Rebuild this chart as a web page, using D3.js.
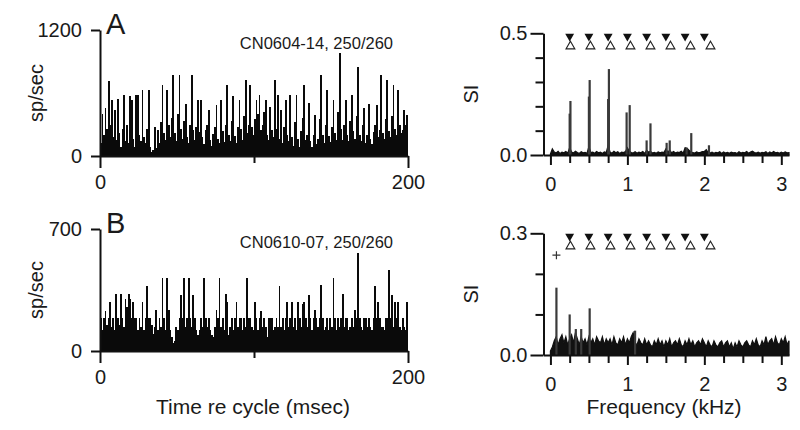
<!DOCTYPE html>
<html><head><meta charset="utf-8">
<script src="https://cdn.jsdelivr.net/npm/d3@7"></script>
<style>
body{margin:0;background:#fff}
svg{display:block}
text{font-family:"Liberation Sans",Arial,Helvetica,sans-serif;fill:#1a1a1a}
</style>
</head><body>
<svg id="chart" width="800" height="430"></svg>
<script>
// ---------- DATA ----------
// Period histograms (1-ms bins, 0..200 ms), spikes/sec
const histA = [
120,400,200,454,260,717,300,533,180,438, 150,540,220,90,260,581,140,300,120,574,
533,160,90,581,581,200,140,628,180,120, 260,628,90,40,60,273,80,250,120,320,
676,220,150,628,300,180,360,771,220,140, 400,771,260,160,330,495,180,120,300,771,
250,150,280,533,230,533,180,110,250,300, 438,150,100,210,280,486,160,120,533,240,
130,300,676,200,140,330,571,190,120,280, 533,260,150,380,724,220,300,676,280,200,
350,533,400,581,250,300,420,533,200,150, 470,250,180,724,260,581,160,438,120,280,
533,200,140,581,180,100,320,581,160,90, 240,360,676,150,200,502,140,90,200,390,
110,160,350,771,200,120,300,628,190,130, 280,533,220,150,420,978,260,150,300,533,
200,140,330,581,240,160,380,850,200,140, 300,454,120,200,495,160,110,230,300,486,
180,250,771,220,160,350,724,240,180,380, 676,260,200,628,300,220,250,438,300,390
];
const histB = [
188,120,188,232,150,188,283,140,188,120, 327,188,150,327,188,140,300,250,327,300,
188,283,188,188,120,188,140,283,120,188, 373,188,188,150,100,140,235,120,188,140,
417,188,120,417,235,120,80,44,60,140, 120,188,321,188,417,140,188,417,188,140,
321,188,120,92,120,188,140,417,188,140, 188,120,92,80,140,235,188,417,140,188,
120,327,280,92,140,188,120,188,280,140, 188,188,120,188,140,417,188,188,140,120,
280,188,120,188,232,140,188,140,80,188, 188,188,120,140,188,140,373,140,188,120,
188,280,140,188,280,140,188,120,280,188, 140,270,283,188,140,321,188,120,188,235,
188,140,188,379,188,120,140,188,120,188, 140,417,188,120,188,140,188,327,140,188,
188,120,140,188,140,235,188,561,188,140, 120,188,188,140,188,140,120,188,373,188,
283,188,140,140,120,188,188,465,188,321, 140,280,188,283,140,120,188,140,120,283
];
const histMaxA = 1200, histMaxB = 700;
const timeTicks = [0, 100, 200];

// Spectra: noise floor sampled every 0.025 kHz from 0 to 3.1 kHz
const noiseStep = 0.025;
const noiseA = [
0.004,0.025,0.012,0.008,0.015,0.006,0.012,0.009,0.014,0.007,
0.030,0.012,0.008,0.015,0.010,0.006,0.013,0.009,0.011,0.007,
0.035,0.010,0.012,0.007,0.014,0.009,0.012,0.006,0.013,0.010,
0.040,0.012,0.007,0.015,0.009,0.013,0.006,0.012,0.010,0.014,
0.030,0.015,0.010,0.008,0.013,0.007,0.012,0.009,0.014,0.006,
0.020,0.012,0.015,0.008,0.011,0.007,0.013,0.009,0.012,0.010,
0.025,0.012,0.020,0.009,0.014,0.008,0.012,0.010,0.015,0.007,
0.030,0.028,0.020,0.012,0.010,0.008,0.013,0.009,0.011,0.014,
0.015,0.022,0.010,0.008,0.012,0.007,0.011,0.009,0.013,0.006,
0.012,0.008,0.011,0.007,0.012,0.009,0.010,0.006,0.013,0.008,
0.011,0.009,0.014,0.007,0.012,0.016,0.010,0.008,0.012,0.007,
0.011,0.009,0.013,0.006,0.012,0.008,0.014,0.009,0.011,0.007,
0.012,0.008,0.013,0.009,0.010
];
const noiseB = [
0.010,0.020,0.035,0.045,0.025,0.040,0.050,0.030,0.045,0.025,
0.040,0.050,0.030,0.055,0.040,0.025,0.045,0.030,0.040,0.025,
0.045,0.030,0.040,0.025,0.045,0.035,0.030,0.045,0.025,0.040,
0.030,0.040,0.025,0.045,0.030,0.025,0.040,0.030,0.045,0.025,
0.040,0.030,0.045,0.055,0.030,0.025,0.040,0.030,0.025,0.040,
0.025,0.035,0.025,0.020,0.035,0.025,0.040,0.025,0.035,0.020,
0.035,0.025,0.040,0.020,0.030,0.035,0.025,0.040,0.025,0.020,
0.035,0.025,0.040,0.025,0.035,0.020,0.030,0.035,0.025,0.040,
0.030,0.020,0.035,0.025,0.020,0.035,0.025,0.020,0.030,0.035,
0.020,0.030,0.035,0.020,0.030,0.015,0.030,0.020,0.035,0.025,
0.020,0.030,0.035,0.025,0.020,0.035,0.025,0.040,0.025,0.020,
0.035,0.025,0.045,0.025,0.035,0.040,0.025,0.045,0.030,0.025,
0.040,0.030,0.045,0.025,0.035
];
// Spectral peaks (kHz, SI)
const peakFreqA = [0.25,0.26,0.50,0.51,0.75,0.76,0.99,1.03,1.25,1.30,1.51,1.55,1.77,1.83,2.06];
const peakSIA   = [0.17,0.222,0.24,0.308,0.23,0.353,0.175,0.205,0.06,0.13,0.05,0.06,0.03,0.09,0.04];
const peakFreqB = [0.078,0.25,0.33,0.40,0.51,1.10];
const peakSIB   = [0.166,0.10,0.064,0.064,0.115,0.06];
const siMaxA = 0.5, siMaxB = 0.3;
const freqTicks = [0,0.25,0.5,0.75,1,1.25,1.5,1.75,2,2.25,2.5,2.75,3];
const freqLabels = [0,1,2,3];
// Harmonic markers: 250 Hz (filled) and 260 Hz (open) multiples
const markers250 = [0.25,0.50,0.75,1.00,1.25,1.50,1.75,2.00];
const markers260 = [0.26,0.52,0.78,1.04,1.30,1.56,1.82,2.08];
const crossB = {f:0.078, si:0.246};

// ---------- DRAW ----------
const svg = d3.select("#chart");
const FS = "20px";

function styleAxis(g){
  g.selectAll("path.domain").attr("stroke","#111").attr("stroke-width",2);
  g.selectAll(".tick line").attr("stroke","#111").attr("stroke-width",2);
  g.selectAll(".tick text").style("font-size",FS).attr("fill","#1a1a1a");
}

function drawHist(o){
  const g = svg.append("g");
  const x = d3.scaleLinear().domain([0,200]).range([100,408]);
  const y = d3.scaleLinear().domain([0,o.max]).range([o.y0,o.y1]);
  g.append("g").attr("shape-rendering","crispEdges").selectAll("rect").data(o.data).join("rect")
    .attr("x",(d,i)=>x(i)).attr("width",x(1)-x(0)+0.3)
    .attr("y",d=>y(d)).attr("height",d=>y(0)-y(d))
    .attr("fill","#0a0a0a");
  const ya = g.append("g").attr("transform","translate(100,0)")
    .call(d3.axisLeft(y).tickValues([0,o.max]).tickSize(9).tickPadding(9).tickSizeOuter(0).tickFormat(d3.format("d")));
  styleAxis(ya);
  const xa = g.append("g").attr("transform",`translate(0,${o.y0})`)
    .call(d3.axisBottom(x).tickValues([timeTicks[0],timeTicks[2]]).tickSize(12).tickPadding(7).tickSizeOuter(0));
  styleAxis(xa);
  const xm = g.append("g").attr("transform",`translate(0,${o.y0})`)
    .call(d3.axisBottom(x).tickValues([timeTicks[1]]).tickSize(7).tickFormat("").tickSizeOuter(0));
  styleAxis(xm);
  xm.select("path.domain").remove();
  g.append("text").attr("x",106).attr("y",o.y1+4).style("font-size","29px").text(o.letter);
  g.append("text").attr("x",393).attr("y",o.y1+19).attr("text-anchor","end").style("font-size","16.5px").text(o.note);
  g.append("text").attr("transform",`translate(43,${(o.y0+o.y1)/2}) rotate(-90)`)
    .attr("text-anchor","middle").style("font-size",FS).text("sp/sec");
}

function drawSpec(o){
  const g = svg.append("g");
  const x = d3.scaleLinear().domain([-0.09,3.1]).range([543.5,789]);
  const y = d3.scaleLinear().domain([0,o.max]).range([o.y0,o.y1]);
  const area = d3.area().x((d,i)=>x(i*noiseStep)).y0(y(0)).y1(d=>y(d));
  g.append("path").datum(o.noise).attr("d",area).attr("fill","#111")
    .attr("stroke","#111").attr("stroke-width",1.2).attr("stroke-linejoin","miter");
  g.append("g").selectAll("line").data(o.pf).join("line")
    .attr("x1",d=>x(d)).attr("x2",d=>x(d))
    .attr("y1",y(0)).attr("y2",(d,i)=>y(o.ps[i]))
    .attr("stroke","#3a3a3a").attr("stroke-width",2.2);
  // y axis: major & minor
  const ya = g.append("g").attr("transform","translate(543.5,0)")
    .call(d3.axisLeft(y).tickValues([0,o.max]).tickSize(13).tickPadding(3).tickSizeOuter(0).tickFormat(d3.format(".1f")));
  styleAxis(ya);
  const minor = d3.range(1, Math.round(o.max*10)).map(k=>k/10);
  const ym = g.append("g").attr("transform","translate(543.5,0)")
    .call(d3.axisLeft(y).tickValues(minor).tickSize(8).tickFormat("").tickSizeOuter(0));
  styleAxis(ym); ym.select("path.domain").remove();
  const xa = g.append("g").attr("transform",`translate(0,${o.y0})`)
    .call(d3.axisBottom(x).tickValues(freqLabels).tickSize(10).tickPadding(12).tickSizeOuter(0).tickFormat(d3.format("d")));
  styleAxis(xa);
  const xm = g.append("g").attr("transform",`translate(0,${o.y0})`)
    .call(d3.axisBottom(x).tickValues(freqTicks.filter(t=>!freqLabels.includes(t))).tickSize(8).tickFormat("").tickSizeOuter(0));
  styleAxis(xm); xm.select("path.domain").remove();
  // markers
  const tri = d3.symbol().type(d3.symbolTriangle).size(34)();
  g.append("g").selectAll("path").data(markers250).join("path")
    .attr("d",tri).attr("transform",d=>`translate(${x(d)},${o.y1+3}) rotate(180)`)
    .attr("fill","#111");
  g.append("g").selectAll("path").data(markers260).join("path")
    .attr("d",tri).attr("transform",d=>`translate(${x(d)},${o.y1+13})`)
    .attr("fill","#fff").attr("stroke","#222").attr("stroke-width",1.1);
  if(o.cross){
    const c = o.cross, cx = x(c.f), cy = y(c.si);
    g.append("path").attr("d",`M${cx-4},${cy}H${cx+4}M${cx},${cy-4}V${cy+4}`)
      .attr("stroke","#333").attr("stroke-width",1.2);
  }
  g.append("text").attr("transform",`translate(478,${(o.y0+o.y1)/2}) rotate(-90)`)
    .attr("text-anchor","middle").style("font-size",FS).text("SI");
}

drawHist({data:histA,max:histMaxA,y0:156,y1:30,letter:"A",note:"CN0604-14, 250/260"});
drawHist({data:histB,max:histMaxB,y0:351,y1:229,letter:"B",note:"CN0610-07, 250/260"});
drawSpec({noise:noiseA,pf:peakFreqA,ps:peakSIA,max:siMaxA,y0:155,y1:33.3});
drawSpec({noise:noiseB,pf:peakFreqB,ps:peakSIB,max:siMaxB,y0:355,y1:233.3,cross:crossB});

svg.append("text").attr("x",253).attr("y",414).attr("text-anchor","middle").style("font-size","21px").text("Time re cycle (msec)");
svg.append("text").attr("x",664).attr("y",414).attr("text-anchor","middle").style("font-size","21px").text("Frequency (kHz)");
</script>
</body></html>
